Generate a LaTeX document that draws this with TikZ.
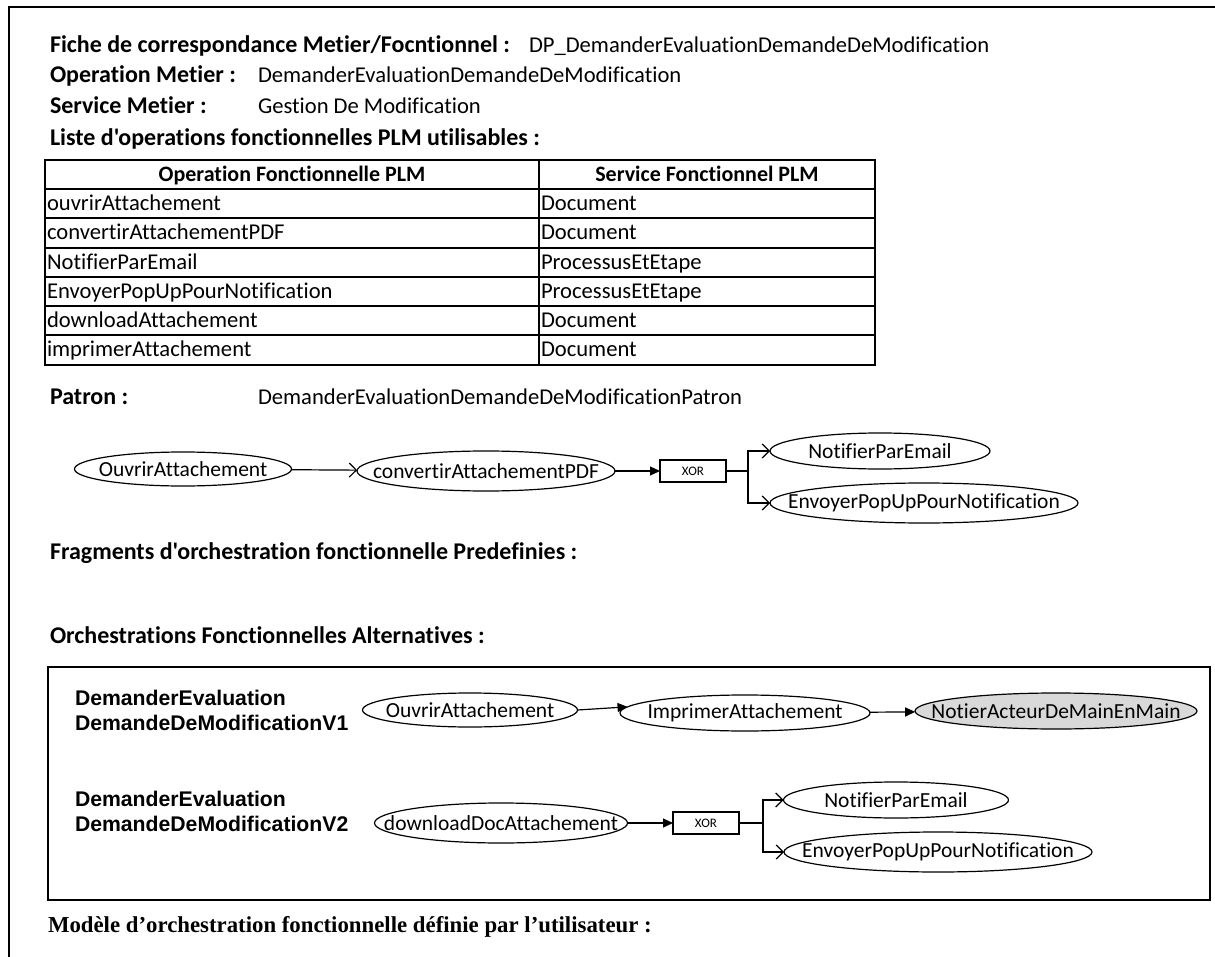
\documentclass[tikz,border=0pt]{standalone}
\usepackage{fontspec}
\newfontfamily\calf{Carlito}[Ligatures=CommonOff]
\newfontfamily\arialf{Liberation Sans}
\newfontfamily\timesf{Liberation Serif}
\usetikzlibrary{shapes.geometric,arrows.meta}
\newcommand{\zw}[1]{\makebox[0pt][c]{#1}}
\begin{document}
\begin{tikzpicture}[x=1pt,y=-1pt,
  every node/.style={inner sep=0pt, outer sep=0pt},
  lbl/.style={anchor=base west, font=\calf\fontsize{24}{26}\selectfont\bfseries},
  val/.style={anchor=base west, font=\calf\fontsize{22.6}{26}\selectfont},
  cell/.style={anchor=base west, font=\calf\fontsize{22.6}{26}\selectfont},
  head/.style={anchor=base, font=\calf\fontsize{22}{26}\selectfont\bfseries},
  ell/.style={draw, ellipse, line width=1.2pt, font=\calf\fontsize{21.5}{24}\selectfont},
  xorbox/.style={draw, rectangle, line width=1.2pt, minimum width=66pt, minimum height=22pt, font=\calf\fontsize{13}{15}\selectfont},
  vlbl/.style={anchor=west, align=left, font=\fontsize{21.2}{25}\selectfont\arialf\bfseries},
  openarr/.style={line width=1.2pt, -{Straight Barb[length=7pt,width=14pt,line width=1.2pt]}},
  fillarr/.style={line width=1.2pt, -{Triangle[length=10pt,width=9pt]}},
  conn/.style={line width=1.2pt}
]
\useasboundingbox (0,0) rectangle (1215,957);
% outer frame
\draw[line width=2.5pt] (1215,7) -- (9,7) -- (9,957);

% header
\node[lbl] (l1) at (50,52.5) {Fiche de correspondance Metier/Focntionnel :};
\node[val] (v1) at (529,52.5) {DP\_DemanderEvaluationDemandeDeModification};
\node[lbl] (l2) at (50,82.5) {Operation Metier :};
\node[val] (v2) at (258,82.5) {DemanderEvaluationDemandeDeModification};
\node[lbl] (l3) at (50,113.5) {Service Metier :};
\node[val] (v3) at (258,113.5) {Gestion De Modification};
\node[lbl] (l4) at (50,145.5) {Liste d'operations fonctionnelles PLM utilisables :};

% table
\draw[line width=1.2pt] (45,160) rectangle (875,365);
\draw[line width=1.2pt] (539,160) -- (539,365);
\foreach \yy in {189,218,248,277,306,335} \draw[line width=1.2pt] (45,\yy) -- (875,\yy);
\node[head] (h1) at (292,182) {Operation Fonctionnelle PLM};
\node[head] (h2) at (707,182) {Service Fonctionnel PLM};
\node[cell] (a1) at (47,211) {ouvrirAttachement};
\node[cell] (b1) at (541,211) {Document};
\node[cell] (a2) at (47,240) {convertirAttachementPDF};
\node[cell] (b2) at (541,240) {Document};
\node[cell] (a3) at (47,270) {NotifierParEmail};
\node[cell] (b3) at (541,270) {ProcessusEtEtape};
\node[cell] (a4) at (47,299) {EnvoyerPopUpPourNotification};
\node[cell] (b4) at (541,299) {ProcessusEtEtape};
\node[cell] (a5) at (47,328) {downloadAttachement};
\node[cell] (b5) at (541,328) {Document};
\node[cell] (a6) at (47,357) {imprimerAttachement};
\node[cell] (b6) at (541,357) {Document};

% patron
\node[lbl] (pl) at (50,404.5) {Patron :};
\node[val] (pv) at (258,404.5) {DemanderEvaluationDemandeDeModificationPatron};

\node[ell, minimum width=217pt, minimum height=34pt] (p1) at (183,469) {\zw{OuvrirAttachement}};
\node[ell, minimum width=258pt, minimum height=40pt] (p2) at (486,471) {\zw{convertirAttachementPDF}};
\node[xorbox] (px) at (693,471) {XOR};
\node[ell, minimum width=220pt, minimum height=36pt] (p3) at (880,451) {\zw{NotifierParEmail}};
\node[ell, minimum width=308pt, minimum height=40pt] (p4) at (924,503) {\zw{EnvoyerPopUpPourNotification}};
\coordinate (pj) at (748,471);
\draw[openarr] (p1) -- (p2);
\draw[fillarr] (p2) -- (px);
\draw[conn] (px.east) -- (pj);
\draw[openarr] (pj) |- (p3.west);
\draw[openarr] (pj) |- (p4.west);

% fragments
\node[lbl] (fr) at (50,559.5) {Fragments d'orchestration fonctionnelle Predefinies :};
\node[lbl] (oa) at (50,643.5) {Orchestrations Fonctionnelles Alternatives :};

% alternatives box
\draw[line width=2.5pt] (48,667) rectangle (1210,900);
\node[vlbl] (t1) at (75,710) {DemanderEvaluation\\DemandeDeModificationV1};
\node[vlbl] (t2) at (75,811) {DemanderEvaluation\\DemandeDeModificationV2};

\node[ell, minimum width=215pt, minimum height=34pt] (o1) at (470,710) {\zw{OuvrirAttachement}};
\node[ell, minimum width=250pt, minimum height=36pt] (o2) at (745,713) {\zw{ImprimerAttachement}};
\node[ell, fill=black!15, minimum width=282pt, minimum height=36pt] (o3) at (1056,711) {\zw{NotierActeurDeMainEnMain}};
\draw[fillarr] (o1.east) -- (o2.177);
\draw[fillarr] (o2) -- (o3);

\node[ell, minimum width=253pt, minimum height=40pt] (d1) at (501,823) {\zw{downloadDocAttachement}};
\node[xorbox] (dx) at (706,823) {XOR};
\node[ell, minimum width=225pt, minimum height=36pt] (d2) at (896,800) {\zw{NotifierParEmail}};
\node[ell, minimum width=308pt, minimum height=40pt] (d3) at (938,852) {\zw{EnvoyerPopUpPourNotification}};
\coordinate (dj) at (763,823);
\draw[fillarr] (d1) -- (dx);
\draw[conn] (dx.east) -- (dj);
\draw[openarr] (dj) |- (d2.west);
\draw[openarr] (dj) |- (d3.west);

% bottom
\node[anchor=base west, font=\fontsize{22.8}{26}\selectfont\timesf\bfseries] (md) at (48,932) {Modèle d’orchestration fonctionnelle définie par l’utilisateur :};
\end{tikzpicture}
\end{document}
